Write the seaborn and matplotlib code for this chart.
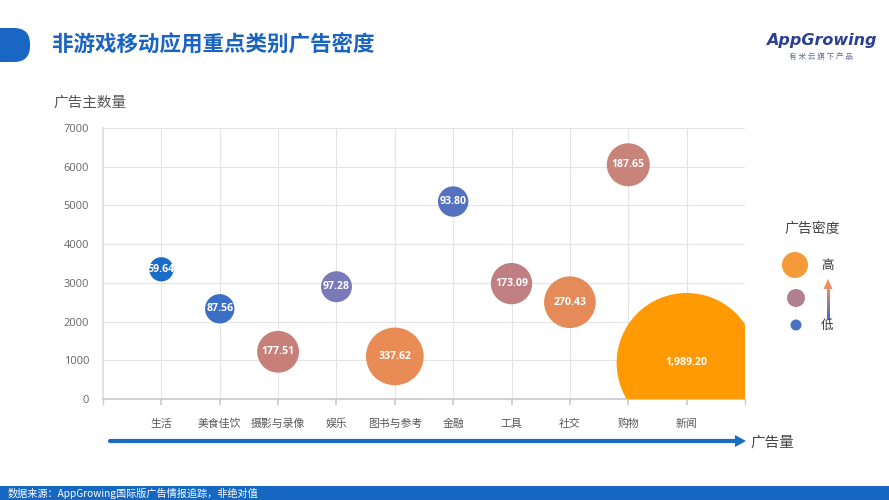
import matplotlib
matplotlib.use("Agg")
import matplotlib.pyplot as plt
import seaborn as sns
import pandas as pd
import numpy as np
from matplotlib.patches import FancyBboxPatch, Ellipse, Polygon, Rectangle
from matplotlib.lines import Line2D

# ---- data ----
categories = ["生活", "美食佳饮", "摄影与录像", "娱乐", "图书与参考", "金融", "工具", "社交", "购物", "新闻"]
advertisers = [3350, 2330, 1220, 2900, 1100, 5100, 2980, 2500, 6050, 930]
density = [59.64, 87.56, 177.51, 97.28, 337.62, 93.80, 173.09, 270.43, 187.65, 1989.20]
bubble_colors = ["#1b6cc8", "#3b6fc6", "#c67f79", "#7a79b9", "#e98b55",
                 "#5572c0", "#c07f83", "#e48b59", "#c8837a", "#ff9a05"]
y_ticks = [0, 1000, 2000, 3000, 4000, 5000, 6000, 7000]
title = "非游戏移动应用重点类别广告密度"
source = "数据来源：AppGrowing国际版广告情报追踪，非绝对值"

df = pd.DataFrame({"cat": categories, "n": advertisers, "d": density})

sns.set_theme(style="white")
cjk = ["Noto Sans CJK SC", "DejaVu Sans"]
plt.rcParams["font.family"] = cjk

W, H = 889, 500
fig = plt.figure(figsize=(W / 100, H / 100), dpi=100)
fig.patch.set_facecolor("white")

def fx(px):
    return px / W

def fy(py):
    return 1 - py / H

ax = fig.add_axes([fx(103), fy(399), fx(745) - fx(103), fy(128) - fy(399)])

k = 5.11  # points^2 per unit density
sns.scatterplot(data=df, x="cat", y="n", hue="cat", palette=bubble_colors,
                size="d", sizes=(k * min(density), k * max(density)),
                size_norm=(min(density), max(density)),
                edgecolor="none", alpha=1.0, legend=False, ax=ax, zorder=3)
for coll in ax.collections:
    coll.set_clip_on(True)
    coll.set_clip_path(ax.patch)

for i, (c, n, d) in enumerate(zip(categories, advertisers, density)):
    ax.text(i, n, f"{d:,.2f}", ha="center", va="center", color="white",
            fontsize=7.6, fontweight="bold", family="Open Sans", zorder=4, clip_on=True)

ax.set_xlim(-1, 10)
ax.set_ylim(0, 7000)
ax.set_yticks(y_ticks)
ax.set_yticklabels([str(v) for v in y_ticks], color="#666666", fontsize=8, family="Open Sans")
ax.set_xticks(range(len(categories)))
ax.set_xticklabels(categories, color="#555555", fontsize=7.8)
ax.set_xticks([-1, 10], minor=True)
ax.set_xlabel("")
ax.set_ylabel("")
ax.grid(True, color="#e3e3e8", linewidth=0.8)
ax.set_axisbelow(True)
for s in ["top", "right"]:
    ax.spines[s].set_visible(False)
ax.spines["left"].set_color("#dddddd")
ax.spines["bottom"].set_color("#cccccc")
ax.tick_params(axis="x", which="both", length=4, color="#cccccc", pad=10, bottom=True)
ax.tick_params(axis="y", length=0, pad=10)

# ---- header ----
fig.patches.append(FancyBboxPatch((-0.3, (H - 62) / 100), 0.6, 0.34,
                                  boxstyle="round,pad=0,rounding_size=0.16",
                                  transform=fig.dpi_scale_trans, facecolor="#1a67c3",
                                  edgecolor="none"))
fig.text(fx(52), fy(45), title, fontsize=15.5, fontweight="bold", color="#1a63c0",
         ha="left", va="center")
fig.text(fx(821), fy(40), "AppGrowing", fontsize=11.5, fontstyle="italic", fontweight="bold",
         color="#2b3f94", ha="center", va="center", family="DejaVu Sans")
fig.text(fx(821), fy(57), "有 米 云 旗 下 产 品", fontsize=5.5, color="#5a6aa0",
         ha="center", va="center")

fig.text(fx(53), fy(103), "广告主数量", fontsize=10.5, color="#555555", ha="left", va="center")

# ---- bottom arrow ----
fig.add_artist(Line2D([fx(110), fx(737)], [fy(441), fy(441)], transform=fig.transFigure,
                      color="#1a6cc0", linewidth=3))
fig.patches.append(Polygon([[fx(735), fy(435)], [fx(746), fy(441)], [fx(735), fy(447)]],
                           closed=True, transform=fig.transFigure, facecolor="#1a6cc0",
                           edgecolor="none"))
fig.text(fx(750), fy(443), "广告量", fontsize=10.5, color="#444444", ha="left", va="center")

# ---- legend ----
fig.text(fx(812), fy(229), "广告密度", fontsize=10, color="#444444", ha="center", va="center")
for (cx, cy, r, col) in [(795, 265, 13, "#f59a38"), (796, 298, 9, "#b1808f"), (796, 325, 5.5, "#4a70c2")]:
    fig.patches.append(Ellipse((fx(cx), fy(cy)), 2 * r / W, 2 * r / H, transform=fig.transFigure,
                               facecolor=col, edgecolor="none"))
# gradient arrow
c_low = np.array([0x3a, 0x6c, 0xc6]) / 255
c_high = np.array([0xf0, 0x8e, 0x60]) / 255
n_seg = 31
y0, y1 = 319, 288
seg_h = (y0 - y1) / n_seg
for j in range(n_seg):
    t = j / (n_seg - 1)
    col = c_low * (1 - t) + c_high * t
    ytop = y0 - (j + 1) * seg_h
    fig.patches.append(Rectangle((fx(826.5), fy(ytop + seg_h + 0.3)), 3 / W, (seg_h + 0.6) / H,
                                 transform=fig.transFigure, facecolor=col, edgecolor="none"))
fig.patches.append(Polygon([[fx(823.5), fy(289)], [fx(828), fy(279)], [fx(832.5), fy(289)]],
                           closed=True, transform=fig.transFigure, facecolor=c_high,
                           edgecolor="none"))
fig.text(fx(827), fy(266), "高", fontsize=9, color="#333333", ha="center", va="center")
fig.text(fx(827), fy(325), "低", fontsize=9, color="#333333", ha="center", va="center")

# ---- footer ----
fig.patches.append(plt.Rectangle((0, 0), 1, 14 / H, transform=fig.transFigure,
                                 facecolor="#1667c2", edgecolor="none"))
fig.text(fx(8), fy(493), source, fontsize=7.3, color="white", ha="left", va="center")

fig.savefig("out.png", dpi=100, facecolor="white")
